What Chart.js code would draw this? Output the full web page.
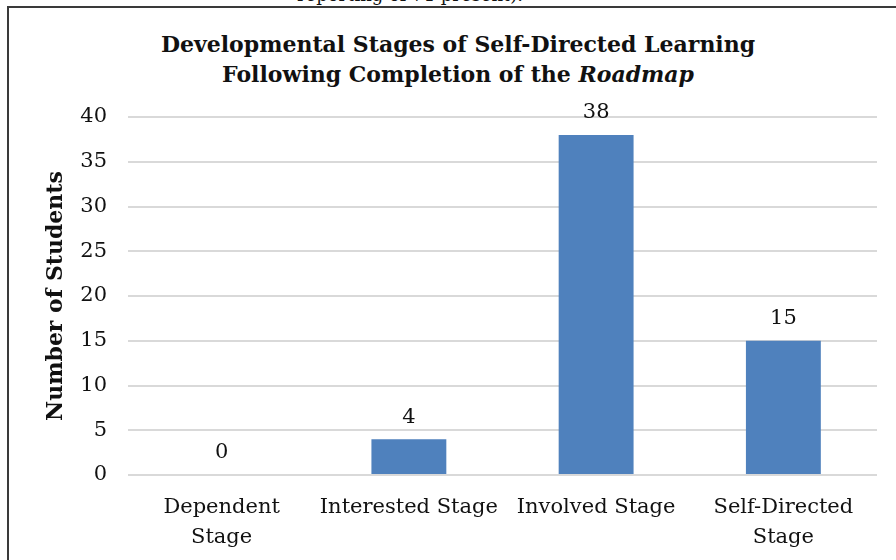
<!DOCTYPE html>
<html>
<head>
<meta charset="utf-8">
<script src="https://cdn.jsdelivr.net/npm/chart.js@4/dist/chart.umd.min.js"></script>
<style>
  html, body { margin: 0; padding: 0; background: #fff; overflow: hidden; }
  #wrap { position: relative; width: 896px; height: 560px; }
  #frame { position: absolute; left: 7px; top: 6px; width: 900px; height: 600px;
           border-left: 2px solid #3a3a3a; border-top: 2px solid #3a3a3a; }
  #cut { position: absolute; left: 0; width: 820px; top: -15px; text-align: center;
         font: 18px "DejaVu Serif", serif; color: #111; line-height: 20px; }
  #title { position: absolute; left: 0; width: 916px; top: 29px; text-align: center;
           font: bold 22px "DejaVu Serif", serif; line-height: 30px; color: #111; }
  canvas { position: absolute; left: 0; top: 0; }
</style>
</head>
<body>
<div id="wrap">
  <div id="cut">reporting of 71 present).</div>
  <div id="frame"></div>
  <div id="title">Developmental Stages of Self-Directed Learning<br>Following Completion of the <i>Roadmap</i></div>
  <canvas id="stagecanvas" width="896" height="560"></canvas>
</div>
<script>
var stages = [["Dependent", "Stage"], "Interested Stage", "Involved Stage", ["Self-Directed", "Stage"]];
var students = [0, 4, 38, 15];
var yTicks = [0, 5, 10, 15, 20, 25, 30, 35, 40];

var fontFamily = '"DejaVu Serif", serif';

// value labels above each bar
var barLabels = {
    id: 'barLabels',
    afterDatasetsDraw: function (chart) {
        var ctx = chart.ctx;
        var meta = chart.getDatasetMeta(0);
        ctx.save();
        ctx.font = '21px ' + fontFamily;
        ctx.fillStyle = '#111';
        ctx.textAlign = 'center';
        ctx.textBaseline = 'middle';
        meta.data.forEach(function (bar, i) {
            ctx.fillText(String(students[i]), bar.x, bar.y - 22);
        });
        ctx.restore();
    }
};

var ctx = document.getElementById("stagecanvas").getContext('2d');
new Chart(ctx, {
    type: 'bar',
    data: {
        labels: stages,
        datasets: [{
            data: students,
            backgroundColor: '#4F81BD',
            categoryPercentage: 1,
            barPercentage: 0.4
        }]
    },
    options: {
        responsive: false,
        animation: false,
        layout: { padding: { left: 0, right: 19, top: 117, bottom: 0 } },
        plugins: {
            legend: { display: false },
            tooltip: { enabled: false }
        },
        scales: {
            x: {
                grid: { display: false, drawTicks: false },
                border: { display: false },
                ticks: {
                    color: '#111',
                    padding: 18,
                    maxRotation: 0,
                    autoSkip: false,
                    font: { family: fontFamily, size: 21, lineHeight: 1.4 }
                },
                afterFit: function (scale) { scale.height = 85; }
            },
            y: {
                min: 0,
                max: 40,
                afterBuildTicks: function (scale) {
                    scale.ticks = yTicks.map(function (v) { return { value: v }; });
                },
                grid: { color: '#d9d9d9', lineWidth: 2, drawTicks: false },
                border: { display: false },
                ticks: {
                    color: '#111',
                    padding: 21,
                    font: { family: fontFamily, size: 21 }
                },
                title: {
                    display: true,
                    text: 'Number of Students',
                    color: '#111',
                    padding: { top: 43, bottom: 0 },
                    font: { family: fontFamily, size: 22, weight: 'bold' }
                },
                afterFit: function (scale) { scale.width = 128; }
            }
        }
    },
    plugins: [barLabels]
});
</script>
</body>
</html>
